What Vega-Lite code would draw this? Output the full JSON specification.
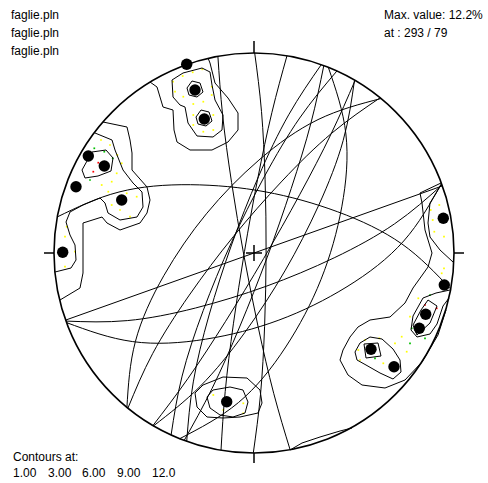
{
"$schema": "https://vega.github.io/schema/vega-lite/v6.json",
"width": 488, "height": 483, "padding": 0,
"autosize": {"type": "fit", "contains": "padding"},
"config": {"view": {"stroke": null}},
"datasets": {
"gc": [
{"id":1,"o":0,"x":188.4,"y":67.1},{"id":1,"o":1,"x":0,"y":0},{"id":1,"o":2,"x":-188.4,"y":-67.1},
{"id":2,"o":0,"x":188.1,"y":68.1},{"id":2,"o":1,"x":140.6,"y":29.2},{"id":2,"o":2,"x":80.2,"y":-4.8},{"id":2,"o":3,"x":12.1,"y":-33.3},{"id":2,"o":4,"x":-58.5,"y":-55.0},{"id":2,"o":5,"x":-126.7,"y":-67.6},{"id":2,"o":6,"x":-188.1,"y":-68.1},
{"id":3,"o":0,"x":187.5,"y":69.6},{"id":3,"o":1,"x":149.7,"y":12.0},{"id":3,"o":2,"x":93.0,"y":-33.7},{"id":3,"o":3,"x":24.9,"y":-67.1},{"id":3,"o":4,"x":-48.5,"y":-86.2},{"id":3,"o":5,"x":-121.3,"y":-88.6},{"id":3,"o":6,"x":-187.5,"y":-69.6},
{"id":4,"o":0,"x":101.1,"y":172.6},{"id":4,"o":1,"x":77.0,"y":118.9},{"id":4,"o":2,"x":45.6,"y":58.2},{"id":4,"o":3,"x":9.6,"y":-5.6},{"id":4,"o":4,"x":-28.4,"y":-68.3},{"id":4,"o":5,"x":-66.0,"y":-125.4},{"id":4,"o":6,"x":-101.1,"y":-172.6},
{"id":5,"o":0,"x":100.5,"y":172.9},{"id":5,"o":1,"x":89.2,"y":112.6},{"id":5,"o":2,"x":64.7,"y":47.7},{"id":5,"o":3,"x":30.9,"y":-17.9},{"id":5,"o":4,"x":-9.4,"y":-79.8},{"id":5,"o":5,"x":-53.7,"y":-133.2},{"id":5,"o":6,"x":-100.5,"y":-172.9},
{"id":6,"o":0,"x":69.8,"y":187.4},{"id":6,"o":1,"x":56.9,"y":129.8},{"id":6,"o":2,"x":37.2,"y":64.4},{"id":6,"o":3,"x":13.0,"y":-4.8},{"id":6,"o":4,"x":-14.0,"y":-73.0},{"id":6,"o":5,"x":-41.9,"y":-135.4},{"id":6,"o":6,"x":-69.8,"y":-187.4},
{"id":7,"o":0,"x":74.3,"y":185.7},{"id":7,"o":1,"x":91.9,"y":119.0},{"id":7,"o":2,"x":87.8,"y":46.2},{"id":7,"o":3,"x":66.9,"y":-26.7},{"id":7,"o":4,"x":31.7,"y":-94.0},{"id":7,"o":5,"x":-15.5,"y":-149.5},{"id":7,"o":6,"x":-74.3,"y":-185.7},
{"id":8,"o":0,"x":0.7,"y":200},{"id":8,"o":1,"x":7.5,"y":141.5},{"id":8,"o":2,"x":11.1,"y":73.2},{"id":8,"o":3,"x":12.1,"y":0},{"id":8,"o":4,"x":10.6,"y":-73.3},{"id":8,"o":5,"x":6.5,"y":-141.5},{"id":8,"o":6,"x":-0.7,"y":-200},
{"id":9,"o":0,"x":36.1,"y":-196.7},{"id":9,"o":1,"x":19.7,"y":-140.3},{"id":9,"o":2,"x":4.1,"y":-73.7},{"id":9,"o":3,"x":-10.2,"y":-1.9},{"id":9,"o":4,"x":-22.4,"y":70.4},{"id":9,"o":5,"x":-31.4,"y":138.1},{"id":9,"o":6,"x":-36.1,"y":196.7},
{"id":10,"o":0,"x":-33.0,"y":-197.3},{"id":10,"o":1,"x":-28.8,"y":-138.6},{"id":10,"o":2,"x":-20.6,"y":-70.8},{"id":10,"o":3,"x":-9.5,"y":1.6},{"id":10,"o":4,"x":3.6,"y":73.7},{"id":10,"o":5,"x":17.9,"y":140.5},{"id":10,"o":6,"x":33.0,"y":197.3},
{"id":11,"o":0,"x":-67.3,"y":-188.4},{"id":11,"o":1,"x":-60.7,"y":-128.9},{"id":11,"o":2,"x":-44.9,"y":-62.0},{"id":11,"o":3,"x":-22.5,"y":8.0},{"id":11,"o":4,"x":4.5,"y":76.4},{"id":11,"o":5,"x":34.7,"y":138.2},{"id":11,"o":6,"x":67.3,"y":188.4},
{"id":12,"o":0,"x":-82.9,"y":-182.0},{"id":12,"o":1,"x":-71.9,"y":-123.1},{"id":12,"o":2,"x":-50.8,"y":-57.6},{"id":12,"o":3,"x":-22.7,"y":10.3},{"id":12,"o":4,"x":10.2,"y":76.1},{"id":12,"o":5,"x":45.7,"y":135.0},{"id":12,"o":6,"x":82.9,"y":182.0},
{"id":13,"o":0,"x":-127.1,"y":-154.5},{"id":13,"o":1,"x":-118.6,"y":-88.5},{"id":13,"o":2,"x":-90.2,"y":-22.7},{"id":13,"o":3,"x":-47.6,"y":39.2},{"id":13,"o":4,"x":4.9,"y":92.9},{"id":13,"o":5,"x":64.0,"y":133.4},{"id":13,"o":6,"x":127.1,"y":154.5},
{"id":14,"o":0,"x":-126.1,"y":-155.2},{"id":14,"o":1,"x":-101.3,"y":-100.5},{"id":14,"o":2,"x":-64.7,"y":-42.1},{"id":14,"o":3,"x":-20.5,"y":16.6},{"id":14,"o":4,"x":28.0,"y":71.9},{"id":14,"o":5,"x":77.6,"y":119.7},{"id":14,"o":6,"x":126.1,"y":155.2},
{"id":15,"o":0,"x":-196.7,"y":36.1},{"id":15,"o":1,"x":-135.0,"y":61.0},{"id":15,"o":2,"x":-63.6,"y":68.3},{"id":15,"o":3,"x":11.2,"y":61.2},{"id":15,"o":4,"x":83.7,"y":41.2},{"id":15,"o":5,"x":147.8,"y":9.1},{"id":15,"o":6,"x":196.7,"y":-36.1}
],
"ct": [
{"id":1,"o":0,"x":-104,"y":171},{"id":1,"o":1,"x":-97,"y":166},{"id":1,"o":2,"x":-91,"y":146},{"id":1,"o":3,"x":-81,"y":143},{"id":1,"o":4,"x":-80,"y":123},{"id":1,"o":5,"x":-77,"y":111},{"id":1,"o":6,"x":-64,"y":103},{"id":1,"o":7,"x":-42,"y":103},{"id":1,"o":8,"x":-26,"y":111},{"id":1,"o":9,"x":-16,"y":123},{"id":1,"o":10,"x":-16,"y":140},{"id":1,"o":11,"x":-26,"y":155},{"id":1,"o":12,"x":-39,"y":170},{"id":1,"o":13,"x":-44,"y":190},{"id":1,"o":14,"x":-46,"y":195},
{"id":2,"o":0,"x":-82,"y":173},{"id":2,"o":1,"x":-71,"y":180},{"id":2,"o":2,"x":-52,"y":185},{"id":2,"o":3,"x":-44,"y":181},{"id":2,"o":4,"x":-42,"y":168},{"id":2,"o":5,"x":-39,"y":153},{"id":2,"o":6,"x":-31,"y":138},{"id":2,"o":7,"x":-32,"y":123},{"id":2,"o":8,"x":-41,"y":116},{"id":2,"o":9,"x":-57,"y":117},{"id":2,"o":10,"x":-66,"y":130},{"id":2,"o":11,"x":-69,"y":146},{"id":2,"o":12,"x":-74,"y":148},{"id":2,"o":13,"x":-81,"y":156},{"id":2,"o":14,"x":-82,"y":173},
{"id":3,"o":0,"x":-67,"y":165},{"id":3,"o":1,"x":-62,"y":172},{"id":3,"o":2,"x":-54,"y":170},{"id":3,"o":3,"x":-51,"y":161},{"id":3,"o":4,"x":-57,"y":156},{"id":3,"o":5,"x":-65,"y":158},{"id":3,"o":6,"x":-67,"y":165},
{"id":4,"o":0,"x":-58,"y":136},{"id":4,"o":1,"x":-53,"y":143},{"id":4,"o":2,"x":-45,"y":141},{"id":4,"o":3,"x":-42,"y":132},{"id":4,"o":4,"x":-48,"y":127},{"id":4,"o":5,"x":-56,"y":129},{"id":4,"o":6,"x":-58,"y":136},
{"id":5,"o":0,"x":-151,"y":131},{"id":5,"o":1,"x":-127,"y":126},{"id":5,"o":2,"x":-124,"y":113},{"id":5,"o":3,"x":-122,"y":100},{"id":5,"o":4,"x":-122,"y":83},{"id":5,"o":5,"x":-107,"y":66},{"id":5,"o":6,"x":-104,"y":53},{"id":5,"o":7,"x":-107,"y":40},{"id":5,"o":8,"x":-114,"y":30},{"id":5,"o":9,"x":-134,"y":23},{"id":5,"o":10,"x":-147,"y":30},{"id":5,"o":11,"x":-152,"y":36},{"id":5,"o":12,"x":-171,"y":30},{"id":5,"o":13,"x":-171,"y":0},{"id":5,"o":14,"x":-171,"y":-20},{"id":5,"o":15,"x":-174,"y":-35},{"id":5,"o":16,"x":-194,"y":-47},
{"id":6,"o":0,"x":-159,"y":120},{"id":6,"o":1,"x":-142,"y":113},{"id":6,"o":2,"x":-139,"y":103},{"id":6,"o":3,"x":-131,"y":83},{"id":6,"o":4,"x":-121,"y":70},{"id":6,"o":5,"x":-112,"y":61},{"id":6,"o":6,"x":-111,"y":46},{"id":6,"o":7,"x":-117,"y":36},{"id":6,"o":8,"x":-134,"y":33},{"id":6,"o":9,"x":-146,"y":40},{"id":6,"o":10,"x":-149,"y":50},{"id":6,"o":11,"x":-154,"y":55},{"id":6,"o":12,"x":-171,"y":48},{"id":6,"o":13,"x":-184,"y":41},{"id":6,"o":14,"x":-188,"y":31},{"id":6,"o":15,"x":-184,"y":18},{"id":6,"o":16,"x":-179,"y":8},{"id":6,"o":17,"x":-178,"y":-7},{"id":6,"o":18,"x":-183,"y":-15},{"id":6,"o":19,"x":-199,"y":-19},
{"id":7,"o":0,"x":-172,"y":83},{"id":7,"o":1,"x":-162,"y":101},{"id":7,"o":2,"x":-148,"y":103},{"id":7,"o":3,"x":-141,"y":95},{"id":7,"o":4,"x":-143,"y":82},{"id":7,"o":5,"x":-156,"y":77},{"id":7,"o":6,"x":-169,"y":75},{"id":7,"o":7,"x":-172,"y":83},
{"id":8,"o":0,"x":187,"y":70},{"id":8,"o":1,"x":166,"y":60},{"id":8,"o":2,"x":168,"y":50},{"id":8,"o":3,"x":171,"y":23},{"id":8,"o":4,"x":178,"y":0},{"id":8,"o":5,"x":174,"y":-14},{"id":8,"o":6,"x":159,"y":-35},{"id":8,"o":7,"x":151,"y":-50},{"id":8,"o":8,"x":136,"y":-64},{"id":8,"o":9,"x":116,"y":-67},{"id":8,"o":10,"x":104,"y":-74},{"id":8,"o":11,"x":96,"y":-84},{"id":8,"o":12,"x":89,"y":-97},{"id":8,"o":13,"x":86,"y":-107},{"id":8,"o":14,"x":94,"y":-122},{"id":8,"o":15,"x":108,"y":-132},{"id":8,"o":16,"x":131,"y":-135},{"id":8,"o":17,"x":151,"y":-127},{"id":8,"o":18,"x":168,"y":-109},{"id":8,"o":19,"x":184,"y":-82},{"id":8,"o":20,"x":192,"y":-57},
{"id":9,"o":0,"x":187,"y":68},{"id":9,"o":1,"x":176,"y":50},{"id":9,"o":2,"x":174,"y":30},{"id":9,"o":3,"x":176,"y":16},{"id":9,"o":4,"x":186,"y":3},{"id":9,"o":5,"x":199,"y":-9},
{"id":10,"o":0,"x":196,"y":-37},{"id":10,"o":1,"x":182,"y":-40},{"id":10,"o":2,"x":169,"y":-45},{"id":10,"o":3,"x":159,"y":-63},{"id":10,"o":4,"x":157,"y":-77},{"id":10,"o":5,"x":163,"y":-84},{"id":10,"o":6,"x":176,"y":-81},{"id":10,"o":7,"x":183,"y":-71},{"id":10,"o":8,"x":189,"y":-53},{"id":10,"o":9,"x":195,"y":-45},
{"id":11,"o":0,"x":167,"y":-57},{"id":11,"o":1,"x":174,"y":-47},{"id":11,"o":2,"x":183,"y":-53},{"id":11,"o":3,"x":176,"y":-70},{"id":11,"o":4,"x":163,"y":-82},{"id":11,"o":5,"x":159,"y":-72},{"id":11,"o":6,"x":167,"y":-57},
{"id":12,"o":0,"x":101,"y":-99},{"id":12,"o":1,"x":106,"y":-90},{"id":12,"o":2,"x":116,"y":-84},{"id":12,"o":3,"x":128,"y":-86},{"id":12,"o":4,"x":139,"y":-96},{"id":12,"o":5,"x":146,"y":-107},{"id":12,"o":6,"x":147,"y":-119},{"id":12,"o":7,"x":139,"y":-126},{"id":12,"o":8,"x":126,"y":-120},{"id":12,"o":9,"x":112,"y":-112},{"id":12,"o":10,"x":103,"y":-107},{"id":12,"o":11,"x":101,"y":-99},
{"id":13,"o":0,"x":110,"y":-91},{"id":13,"o":1,"x":124,"y":-90},{"id":13,"o":2,"x":127,"y":-103},{"id":13,"o":3,"x":112,"y":-105},{"id":13,"o":4,"x":110,"y":-91},
{"id":14,"o":0,"x":-59,"y":-140},{"id":14,"o":1,"x":-51,"y":-132},{"id":14,"o":2,"x":-31,"y":-124},{"id":14,"o":3,"x":-7,"y":-125},{"id":14,"o":4,"x":6,"y":-137},{"id":14,"o":5,"x":8,"y":-150},{"id":14,"o":6,"x":4,"y":-160},{"id":14,"o":7,"x":-14,"y":-164},{"id":14,"o":8,"x":-31,"y":-165},{"id":14,"o":9,"x":-47,"y":-164},{"id":14,"o":10,"x":-57,"y":-154},{"id":14,"o":11,"x":-59,"y":-140},
{"id":15,"o":0,"x":-47,"y":-144},{"id":15,"o":1,"x":-41,"y":-137},{"id":15,"o":2,"x":-24,"y":-134},{"id":15,"o":3,"x":-11,"y":-137},{"id":15,"o":4,"x":-6,"y":-149},{"id":15,"o":5,"x":-9,"y":-160},{"id":15,"o":6,"x":-21,"y":-164},{"id":15,"o":7,"x":-34,"y":-162},{"id":15,"o":8,"x":-44,"y":-155},{"id":15,"o":9,"x":-47,"y":-144},
{"id":16,"o":0,"x":36,"y":-197},{"id":16,"o":1,"x":48,"y":-190},{"id":16,"o":2,"x":66,"y":-184},{"id":16,"o":3,"x":86,"y":-178},{"id":16,"o":4,"x":98,"y":-175}
],
"grid": [
{"c":"y","x":-71.3,"y":177},{"c":"y","x":-61.3,"y":180.7},{"c":"y","x":-51.7,"y":183.7},{"c":"y","x":-81,"y":171.3},{"c":"y","x":-79,"y":161.3},{"c":"y","x":-70.7,"y":156.3},{"c":"y","x":-42.3,"y":166.3},{"c":"y","x":-42.3,"y":158},{"c":"y","x":-60.7,"y":149},{"c":"y","x":-50.7,"y":151.3},{"c":"y","x":-60.7,"y":138},{"c":"y","x":-60.7,"y":128},{"c":"y","x":-50.7,"y":121.3},{"c":"y","x":-40.7,"y":123},{"c":"y","x":-40.7,"y":138},
{"c":"y","x":-153,"y":113},{"c":"y","x":-144,"y":108},{"c":"y","x":-136.7,"y":98},{"c":"y","x":-132.3,"y":89.7},{"c":"y","x":-137.3,"y":79.7},{"c":"y","x":-142.3,"y":71.3},{"c":"y","x":-152.3,"y":68},{"c":"y","x":-145.7,"y":61.3},{"c":"y","x":-127.3,"y":59.7},{"c":"y","x":-117.3,"y":56.3},{"c":"y","x":-142.3,"y":48},{"c":"y","x":-134,"y":43},{"c":"y","x":-124,"y":36.3},{"c":"y","x":-187.3,"y":26.3},{"c":"y","x":-189,"y":16.3},{"c":"y","x":-179,"y":1.3},{"c":"y","x":-189,"y":-13.7},
{"c":"y","x":185.3,"y":48},{"c":"y","x":176.7,"y":43},{"c":"y","x":178.7,"y":33},{"c":"y","x":180.3,"y":21.3},{"c":"y","x":190,"y":16.3},{"c":"y","x":190,"y":-15.3},{"c":"y","x":187.7,"y":-20.3},{"c":"y","x":164.3,"y":-45.3},{"c":"y","x":156,"y":-63.7},{"c":"y","x":147.7,"y":-83.7},{"c":"y","x":141,"y":-90.3},{"c":"y","x":125.3,"y":-85.3},{"c":"y","x":111,"y":-87},{"c":"y","x":104.3,"y":-97},{"c":"y","x":106,"y":-107},{"c":"y","x":129.3,"y":-110.3},{"c":"y","x":152.7,"y":-98.7},
{"c":"y","x":-40.7,"y":-142},{"c":"y","x":-10.7,"y":-150.3},{"c":"y","x":-10.7,"y":-160.3},{"c":"y","x":-30.7,"y":-157},
{"c":"g","x":-159.7,"y":104.7},{"c":"g","x":-149.7,"y":101.3},{"c":"g","x":-141.3,"y":94.7},{"c":"g","x":-164,"y":73},{"c":"g","x":176,"y":-42},{"c":"g","x":157.7,"y":-75.3},{"c":"g","x":156,"y":-90.3},{"c":"g","x":171,"y":-85.3},{"c":"g","x":121,"y":-105.3},
{"c":"r","x":-155.7,"y":90.3},{"c":"r","x":-160.7,"y":81.3},{"c":"r","x":171,"y":-52},{"c":"r","x":182.7,"y":-55.3}
],
"poles": [
{"x":-67.3,"y":188.7},{"x":-59,"y":163},{"x":-49.7,"y":134},{"x":-165.7,"y":97},{"x":-149.7,"y":87},{"x":-178,"y":66.3},{"x":-132.3,"y":53},{"x":-191.3,"y":0.7},{"x":189.3,"y":34.7},{"x":190.3,"y":-32},{"x":171.7,"y":-61.3},{"x":165.3,"y":-75.3},{"x":117,"y":-96.3},{"x":140,"y":-113.7},{"x":-27.3,"y":-148.7}
],
"ticks": [
{"x":0,"y":200,"x2":0,"y2":212},{"x":0,"y":-200,"x2":0,"y2":-210},{"x":-200,"y":0,"x2":-210,"y2":0},{"x":200,"y":0,"x2":210,"y2":0},
{"x":-8,"y":0,"x2":8,"y2":0},{"x":0,"y":-8,"x2":0,"y2":8}
],
"labels": [
{"x":-243,"y":234,"t":"faglie.pln"},{"x":-243,"y":216,"t":"faglie.pln"},{"x":-243,"y":198,"t":"faglie.pln"},
{"x":130,"y":234,"t":"Max. value: 12.2%"},{"x":130,"y":216,"t":"at : 293 / 79"},
{"x":-241,"y":-208,"t":"Contours at:"},
{"x":-241,"y":-224,"t":"1.00"},{"x":-206,"y":-224,"t":"3.00"},{"x":-172,"y":-224,"t":"6.00"},{"x":-137,"y":-224,"t":"9.00"},{"x":-102,"y":-224,"t":"12.0"}
]
},
"encoding": {
"x": {"field": "x", "type": "quantitative", "scale": {"domain": [-254, 234], "nice": false, "zero": false}, "axis": null},
"y": {"field": "y", "type": "quantitative", "scale": {"domain": [-230, 253], "nice": false, "zero": false}, "axis": null}
},
"layer": [
{"data": {"name": "grid"}, "mark": {"type": "point", "shape": "square", "size": 3, "filled": true, "opacity": 1}, "encoding": {"color": {"field": "c", "type": "nominal", "scale": {"domain": ["y", "g", "r"], "range": ["#ffff00", "#00c000", "#ff0000"]}, "legend": null}}},
{"data": {"name": "ct"}, "mark": {"type": "line", "color": "black", "strokeWidth": 1}, "encoding": {"detail": {"field": "id"}, "order": {"field": "o"}}},
{"data": {"name": "gc"}, "mark": {"type": "line", "color": "black", "strokeWidth": 1, "interpolate": "natural"}, "encoding": {"detail": {"field": "id"}, "order": {"field": "o"}}},
{"data": {"values": [{"x": 0, "y": 0}]}, "mark": {"type": "point", "shape": "circle", "size": 160000, "filled": false, "stroke": "black", "strokeWidth": 1.6, "opacity": 1}},
{"data": {"name": "ticks"}, "mark": {"type": "rule", "color": "black", "strokeWidth": 1.5}, "encoding": {"x2": {"field": "x2"}, "y2": {"field": "y2"}}},
{"data": {"name": "poles"}, "mark": {"type": "point", "shape": "circle", "size": 130, "filled": true, "color": "black", "opacity": 1}},
{"data": {"name": "labels"}, "mark": {"type": "text", "align": "left", "baseline": "alphabetic", "font": "Liberation Sans", "fontSize": 12, "color": "black"}, "encoding": {"text": {"field": "t"}}}
]
}
